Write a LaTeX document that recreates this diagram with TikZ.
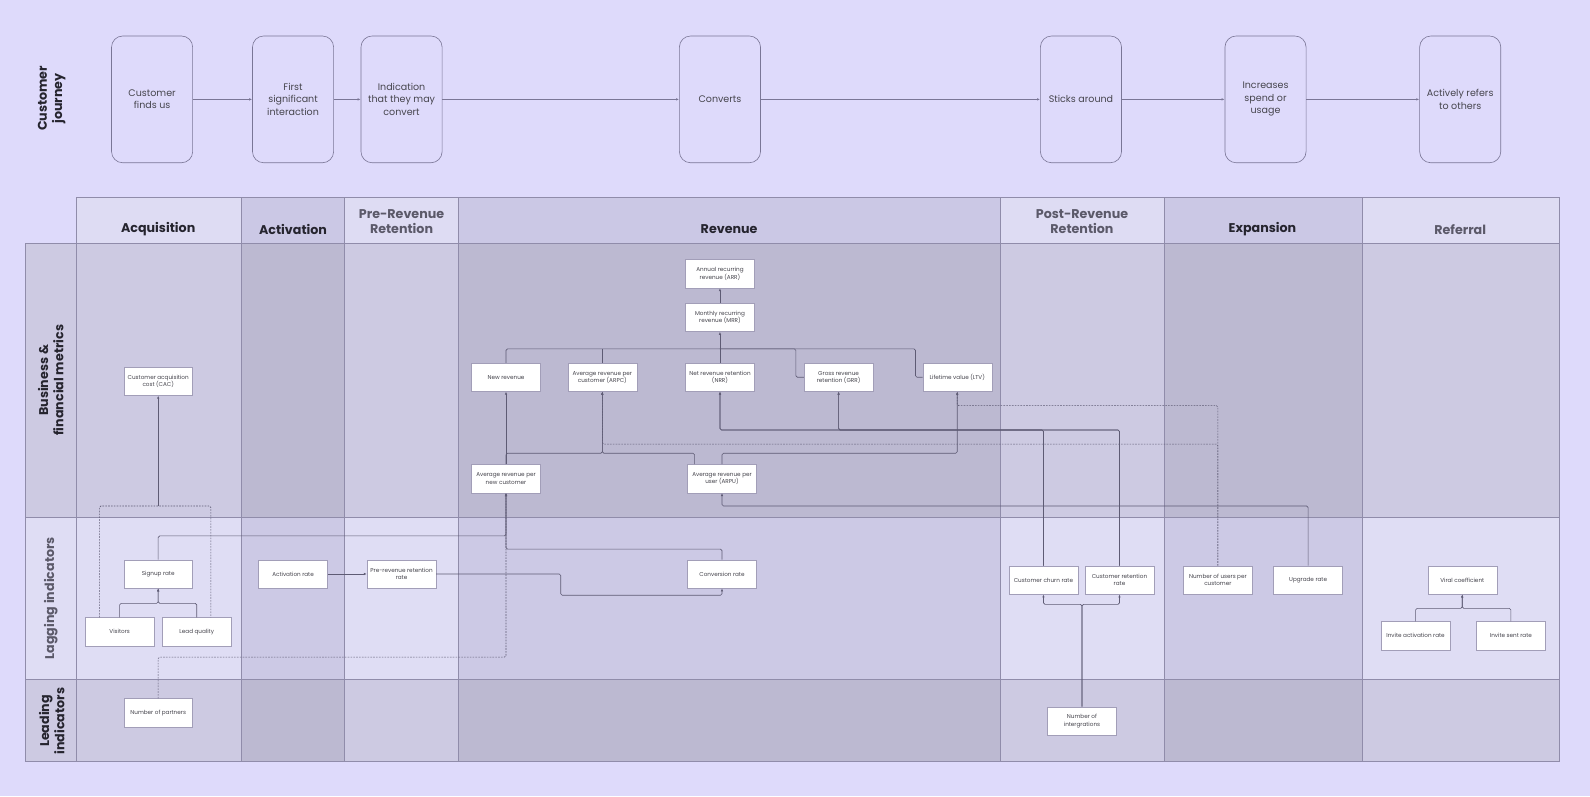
\documentclass[tikz,border=0pt]{standalone}
\usepackage{fontspec}
\setmainfont{Poppins}
\usetikzlibrary{arrows.meta}
\definecolor{bg}{HTML}{DEDAFB}
\definecolor{hd0}{HTML}{DEDCF3}
\definecolor{hd1}{HTML}{CBC8E5}
\definecolor{bs0}{HTML}{CDCAE2}
\definecolor{bs1}{HTML}{BCB9D1}
\definecolor{lg0}{HTML}{DFDDF4}
\definecolor{lg1}{HTML}{CCC9E5}
\definecolor{ld0}{HTML}{CDCAE2}
\definecolor{ld1}{HTML}{BCB9D1}
\definecolor{grid}{HTML}{908CAA}
\definecolor{lnk}{HTML}{5E5B74}
\definecolor{jline}{HTML}{7A7696}
\definecolor{mline}{HTML}{A29EB8}
\definecolor{ink}{HTML}{25242E}
\definecolor{inkgray}{HTML}{5B5969}
\begin{document}
\begin{tikzpicture}[x=1pt,y=-1pt,
  journey/.style={draw=jline,line width=0.6pt,fill=bg,rounded corners=11pt,minimum width=80pt,minimum height=125pt,align=center,font=\fontsize{9.4}{12.4}\selectfont,text=ink!85},
  metric/.style={draw=mline,fill=white,minimum width=68pt,minimum height=28pt,inner sep=1pt,align=center,font=\fontsize{5.6}{7.2}\selectfont,text=ink!85},
  head/.style={font=\fontsize{12.5}{15}\selectfont\bfseries,align=center,text=ink},
  headgray/.style={head,text=inkgray},
  rowlabel/.style={head,rotate=90},
  link/.style={draw=lnk,line width=0.6pt,rounded corners=1.5pt},
  dashlink/.style={link,dash pattern=on 1.6pt off 1.2pt},
  tip/.style={-{Latex[length=3pt,width=2.4pt]}},
  jarrow/.style={draw=jline,line width=0.6pt,-{Latex[length=3pt,width=2.4pt]}}]
\fill[bg](0,0)rectangle(1568,785);
% customer journey
\node[rowlabel] (cj) at (51,97) {Customer\\journey};
\node[journey] (finds) at (150,98) {Customer\\finds us};
\node[journey] (firstint) at (289,98) {First\\significant\\interaction};
\node[journey] (indic) at (396,98) {Indication\\that they may\\convert};
\node[journey] (converts) at (710,98) {Converts};
\node[journey] (sticks) at (1066,98) {Sticks around};
\node[journey] (increases) at (1248,98) {Increases\\spend or\\usage};
\node[journey] (refers) at (1440,98) {Actively refers\\to others};
\foreach \a/\b in {finds/firstint,firstint/indic,indic/converts,converts/sticks,sticks/increases,increases/refers}
  \draw[jarrow] (\a) -- (\b);
% table cells
\foreach \xa/\xb/\k in {75/238/0,238/340/1,340/452/0,452/986/1,986/1148/0,1148/1343/1,1343/1538/0}{
  \fill[hd\k](\xa,195)rectangle(\xb,240);
  \fill[bs\k](\xa,240)rectangle(\xb,510);
  \fill[lg\k](\xa,510)rectangle(\xb,670);
  \fill[ld\k](\xa,670)rectangle(\xb,751);
}
\fill[bs0](25,240)rectangle(75,510);
\fill[lg0](25,510)rectangle(75,670);
\fill[ld0](25,670)rectangle(75,751);
\draw[grid,line width=0.6pt](75,195)--(1538,195);
\foreach \y in {240,510,670,751}
  \draw[grid,line width=0.6pt](25,\y)--(1538,\y);
\draw[grid,line width=0.6pt](25,240)--(25,751);
\foreach \x in {75,238,340,452,986,1148,1343,1538}
  \draw[grid,line width=0.6pt](\x,195)--(\x,751);
% headers
\node[head] (hacq) at (156,226) {Acquisition};
\node[head] (hact) at (289,226) {Activation};
\node[headgray] (hpre) at (396,218.5) {Pre-Revenue\\Retention};
\node[head] (hrev) at (719,226) {Revenue};
\node[headgray] (hpost) at (1067,218.5) {Post-Revenue\\Retention};
\node[head] (hexp) at (1245,226) {Expansion};
\node[headgray] (href) at (1440,226) {Referral};
\node[rowlabel] (rbus) at (50,375) {Business \&\\financial metrics};
\node[rowlabel,text=inkgray] (rlag) at (50,590) {Lagging indicators};
\node[rowlabel] (rlead) at (51,711) {Leading\\indicators};
% business & financial metrics
\node[metric] (cac) at (156,376) {Customer acquisition\\cost (CAC)};
\node[metric] (arr) at (710,270) {Annual recurring\\revenue (ARR)};
\node[metric] (mrr) at (710,313) {Monthly recurring\\revenue (MRR)};
\node[metric] (newrev) at (499,372) {New revenue};
\node[metric] (arpc) at (594,372) {Average revenue per\\customer (ARPC)};
\node[metric] (nrr) at (710,372) {Net revenue retention\\(NRR)};
\node[metric] (grr) at (827,372) {Gross revenue\\retention (GRR)};
\node[metric] (ltv) at (944,372) {Lifetime value (LTV)};
\node[metric] (arpnc) at (499,472) {Average revenue per\\new customer};
\node[metric] (arpu) at (712,472) {Average revenue per\\user (ARPU)};
% lagging indicators
\node[metric] (signup) at (156,566) {Signup rate};
\node[metric] (visitors) at (118,623) {Visitors};
\node[metric] (leadq) at (194,623) {Lead quality};
\node[metric] (actrate) at (289,566) {Activation rate};
\node[metric] (prerate) at (396,566) {Pre-revenue retention\\rate};
\node[metric] (convrate) at (712,566) {Conversion rate};
\node[metric] (churn) at (1029,572) {Customer churn rate};
\node[metric] (retrate) at (1104,572) {Customer retention\\rate};
\node[metric] (usersper) at (1201,572) {Number of users per\\customer};
\node[metric] (upgrade) at (1290,572) {Upgrade rate};
\node[metric] (viral) at (1442,572) {Viral coefficient};
\node[metric] (invact) at (1396,627) {Invite activation rate};
\node[metric] (invsent) at (1490,627) {Invite sent rate};
% leading indicators
\node[metric] (partners) at (156,703) {Number of partners};
\node[metric] (integ) at (1067,711) {Number of\\intergrations};
% links
\coordinate (bus) at (710,344);
\draw[link,tip] (mrr) -- (arr);
\draw[link] (newrev.north) |- (bus);
\draw[link] (arpc.north) -- (arpc.north |- bus);
\draw[link] (nrr.north) -- (bus);
\draw[link] (grr.west) -- ++(-8,0) |- (bus);
\draw[link] (ltv.west) -- ++(-7,0) |- (bus);
\draw[link,tip] (bus) -- (mrr);
\draw[link,tip] (arpnc) -- (newrev);
\draw[link,tip] (arpnc.north) -- (arpnc.north |- 0,447) -| (arpc.south);
\draw[link,tip] ([xshift=-27pt]arpu.north) -- ([xshift=-27pt]arpu.north |- 0,447) -| (arpc.south);
\draw[link,tip] (arpu.north) -- (arpu.north |- 0,447) -| (ltv.south);
\draw[dashlink,tip] (usersper.north) -- (usersper.north |- 0,438) -| (arpc.south);
\draw[dashlink,tip] (usersper.north) -- (usersper.north |- 0,400) -| (ltv.south);
\foreach \m in {churn,retrate}{
  \draw[link,tip] (\m.north) -- (\m.north |- 0,424) -| (nrr.south);
  \draw[link,tip] (\m.north) -- (\m.north |- 0,424) -| (grr.south);
}
\draw[link,tip] (upgrade.north) -- (upgrade.north |- 0,499) -| (arpu.south);
\draw[link,tip] (visitors.north) -- (visitors.north |- 0,595) -| (signup.south);
\draw[link,tip] (leadq.north) -- (leadq.north |- 0,595) -| (signup.south);
\draw[link,tip] (signup.north) -- (signup.north |- 0,528.5) -| (arpnc.south);
\draw[link,tip] (convrate.north) -- (convrate.north |- 0,541.5) -| (arpnc.south);
\draw[link,tip] (actrate) -- (prerate);
\draw[link,tip] (prerate.east) -| (553,587) -| (convrate.south);
\coordinate (cacin) at (156,499);
\draw[dashlink] ([xshift=-20pt]visitors.north) -- ([xshift=-20pt]visitors.north |- cacin) -| ([xshift=14pt]leadq.north);
\draw[link,tip] (cacin) -- (cac.south);
\draw[dashlink,tip] (partners.north) -- (partners.north |- 0,648) -| (arpnc.south);
\draw[link,tip] (integ.north) -- (integ.north |- 0,596) -| (churn.south);
\draw[link,tip] (integ.north) -- (integ.north |- 0,596) -| (retrate.south);
\draw[link,tip] (invact.north) -- (invact.north |- 0,600) -| (viral.south);
\draw[link,tip] (invsent.north) -- (invsent.north |- 0,600) -| (viral.south);
\end{tikzpicture}
\end{document}
